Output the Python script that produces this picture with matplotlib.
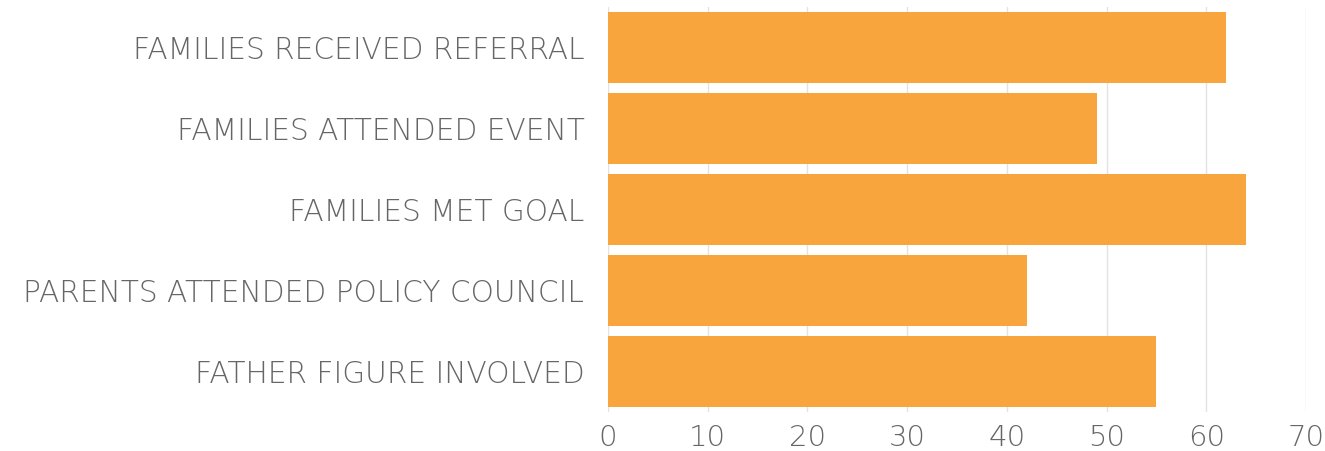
import matplotlib
matplotlib.use('Agg')
import matplotlib.pyplot as plt

# values, top to bottom
labels = ['FAMILIES RECEIVED REFERRAL', 'FAMILIES ATTENDED EVENT', 'FAMILIES MET GOAL',
          'PARENTS ATTENDED POLICY COUNCIL', 'FATHER FIGURE INVOLVED']
values = [62, 49, 64, 42, 55]
xticks = [0, 10, 20, 30, 40, 50, 60, 70]

plt.rcParams['font.family'] = ['DejaVu Sans']

fig = plt.figure(figsize=(13.25, 4.51), dpi=100)
ax = fig.add_axes([608/1325, 1 - 412/451, 698/1325, 405/451])

ypos = list(range(len(values)))
ax.barh(ypos, values, height=0.885, color='#F9A53D', zorder=2)
ax.set_ylim(len(values) - 0.5, -0.5)
ax.set_xlim(0, 70)
ax.set_xticks(xticks)
ax.set_yticks(ypos)
ax.set_yticklabels(labels)
ax.grid(axis='x', color='#e3e3e3', linewidth=1, zorder=0)
for s in ax.spines.values():
    s.set_visible(False)
ax.tick_params(length=0, labelcolor='#666666')
ax.tick_params(axis='x', labelsize=21, pad=9)
ax.tick_params(axis='y', labelsize=21.3, pad=17)
for t in ax.get_yticklabels() + ax.get_xticklabels():
    t.set_fontweight('ultralight')

fig.savefig('out.png', dpi=100)
